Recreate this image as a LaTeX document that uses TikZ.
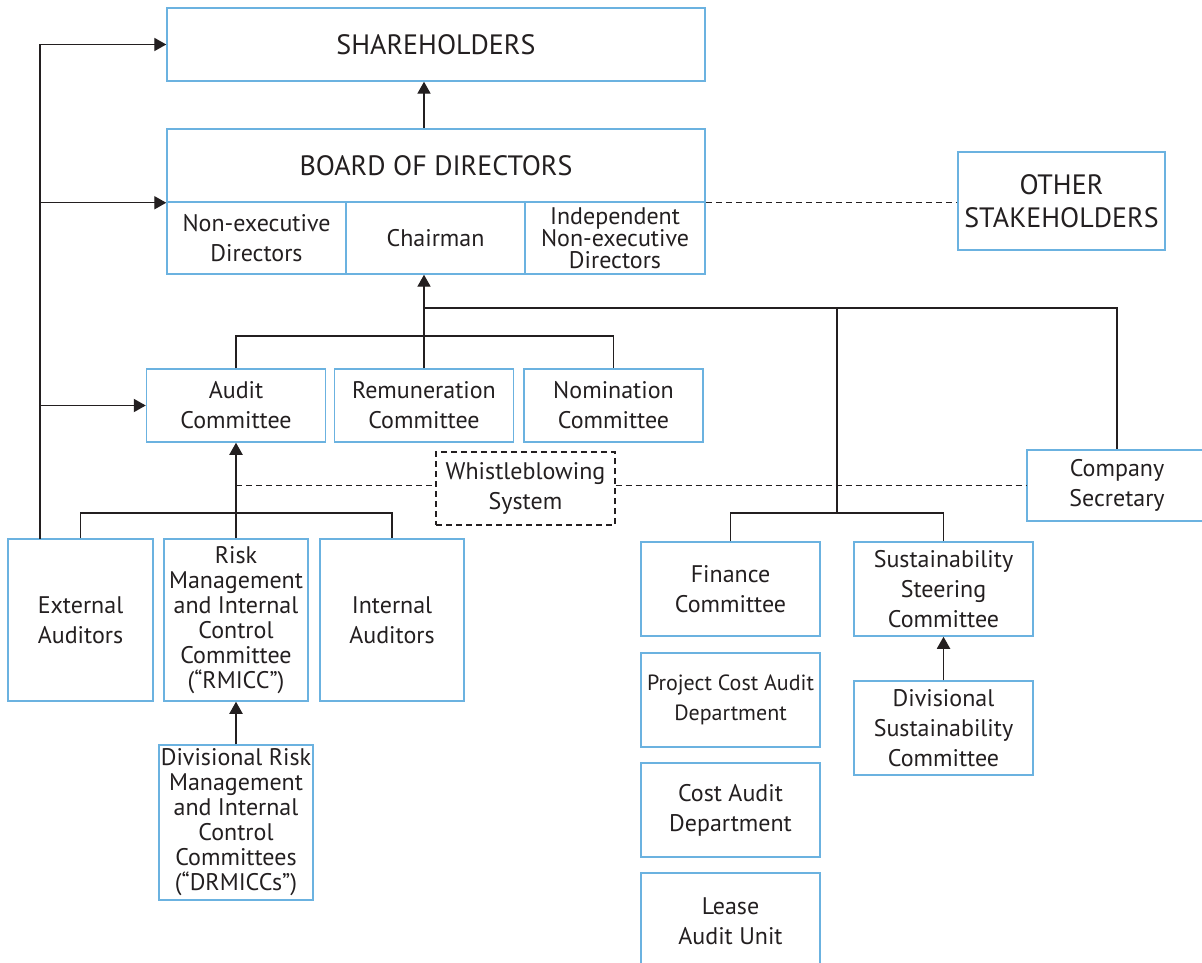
\documentclass[tikz,border=0pt]{standalone}
\usepackage{fontspec}
\setmainfont{PT Sans}
\usepackage{xcolor}
\usetikzlibrary{
    arrows.meta,
    positioning
}
\definecolor{boxblue}{RGB}{107,178,224}
\definecolor{ink}{RGB}{35,31,32}

\begin{document}
\begin{tikzpicture}[x=0.5pt,y=-0.5pt,
    box/.style={draw=boxblue,line width=0.75pt,text=ink,align=center,inner sep=1pt,
        minimum width=89.5pt,minimum height=36.5pt,font=\fontsize{12}{15}\selectfont},
    big/.style={font=\fontsize{14}{16.5}\selectfont},
    tight/.style={font=\fontsize{12}{12.5}\selectfont},
    link/.style={draw=ink,line width=0.65pt},
    arr/.style={link,-{Triangle[length=6pt,width=6.6pt]}},
    dashline/.style={draw=ink,line width=0.65pt,dash pattern=on 3pt off 2pt}]
\useasboundingbox (0,0) rectangle (1202,962);

% Shareholders and board
\node[box,big,minimum width=269pt] (sh) at (436,44.5) {SHAREHOLDERS};
\node[box,big,minimum width=269pt] (board) at (436,165.5) {BOARD OF DIRECTORS};
\node[box,minimum height=36pt] (ned) at (256.5,238) {Non-executive\\Directors};
\node[box,minimum height=36pt] (chair) at (435.5,238) {Chairman};
\node[box,minimum width=90pt,minimum height=36pt,font=\fontsize{12}{11}\selectfont] (ined) at (615,238) {Independent\\Non-executive\\Directors};
\node[box,big,minimum width=103.5pt,minimum height=49pt] (os) at (1061.5,201) {OTHER\\STAKEHOLDERS};

% Board committees
\node[box] (audit) at (236,405.5) {Audit\\Committee};
\node[box] (rem) at (424,405.5) {Remuneration\\Committee};
\node[box] (nom) at (613.5,405.5) {Nomination\\Committee};
\node[box,draw=ink,line width=0.65pt,dash pattern=on 3pt off 2pt] (wb) at (525.5,488.5) {Whistleblowing\\System};
\node[box,minimum width=90pt,minimum height=35.5pt] (cs) at (1117,485.5) {Company\\Secretary};

% Audit side
\node[box,minimum width=72.5pt,minimum height=81pt] (ext) at (80.5,620) {External\\Auditors};
\node[box,tight,minimum width=72pt,minimum height=81pt] (rmicc) at (236,620) {Risk\\Management\\and Internal\\Control\\Committee\\(“RMICC”)};
\node[box,minimum width=72pt,minimum height=81pt] (int) at (392,620) {Internal\\Auditors};
\node[box,tight,minimum width=75pt,minimum height=77.5pt] (drm) at (236,822.5) {Divisional Risk\\Management\\and Internal\\Control\\Committees\\(“DRMICCs”)};

% Other committees and units
\node[box,minimum height=47pt] (fin) at (730.5,589) {Finance\\Committee};
\node[box,minimum height=47pt] (sus) at (943.5,589) {Sustainability\\Steering\\Committee};
\node[box,minimum height=47pt,font=\fontsize{11}{15}\selectfont] (pcad) at (730.5,700) {Project Cost Audit\\Department};
\node[box,minimum height=47pt] (cad) at (730.5,810) {Cost Audit\\Department};
\node[box,minimum height=48.5pt] (lau) at (730.5,921.5) {Lease\\Audit Unit};
\node[box,minimum height=47pt] (dsc) at (943.5,728) {Divisional\\Sustainability\\Committee};

% Connectors
\coordinate (lft) at (40,539);
\coordinate (cbus) at (424,336);
\coordinate (tbus) at (424,308);
\coordinate (fbus) at (837,513);
\coordinate (abus) at (236,513);
\draw[arr] (lft) |- (sh.west);
\draw[arr] (lft |- board.south west) -- (board.south west);
\draw[arr] (lft |- audit.west) -- (audit.west);
\draw[arr] (board.north -| cbus) -- (sh.south -| cbus);
\draw[arr] (rem.north) -- (chair.south -| rem.north);
\draw[link] (audit.north) |- (cbus) -| (nom.north);
\draw[link] (tbus) -| (cs.north);
\draw[link] (fbus |- tbus) -- (fbus);
\draw[link] (fin.north) |- (fbus) -| (sus.north);
\draw[link] (ext.north) |- (abus) -| (int.north);
\draw[arr] (rmicc.north) -- (audit.south);
\draw[arr] (drm.north) -- (rmicc.south);
\draw[arr] (dsc.north) -- (sus.south);

% Dashed links
\draw[dashline] (board.south east) -- (board.south east -| os.west);
\draw[dashline] (rmicc.north |- cs.west) -- (wb.west |- cs.west);
\draw[dashline] (wb.east |- cs.west) -- (cs.west);
\end{tikzpicture}
\end{document}
